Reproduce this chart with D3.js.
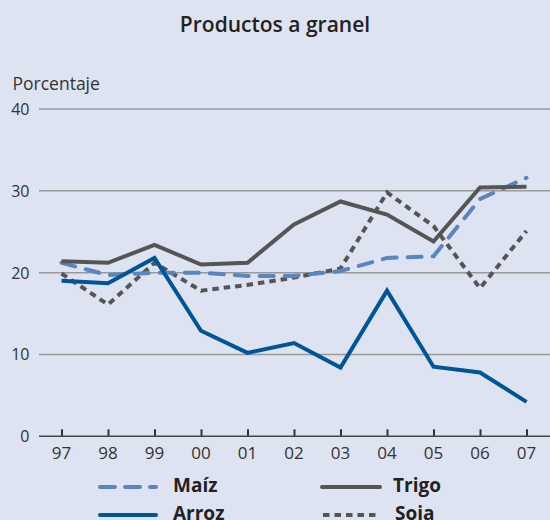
<!DOCTYPE html>
<html>
<head>
<meta charset="utf-8">
<script src="https://cdn.jsdelivr.net/npm/d3@7"></script>
<style>
  body { margin: 0; background: #dee3f1; }
  svg { display: block; font-family: "Open Sans", sans-serif; }
</style>
</head>
<body>
<div id="chart"></div>
<script>
// years shown on the x axis
const years = ["97", "98", "99", "00", "01", "02", "03", "04", "05", "06", "07"];
const yTicks = [0, 10, 20, 30, 40];

// percent values
const maiz = [21.2, 19.7, 20.0, 20.0, 19.6, 19.6, 20.2, 21.8, 22.0, 29.0, 31.6];
const trigo = [21.4, 21.2, 23.4, 21.0, 21.2, 25.9, 28.7, 27.1, 23.8, 30.4, 30.5];
const arroz = [19.0, 18.7, 21.8, 12.9, 10.2, 11.4, 8.4, 17.8, 8.5, 7.8, 4.2];
const soja = [19.9, 16.1, 21.2, 17.8, 18.5, 19.4, 20.5, 29.8, 25.7, 18.1, 25.1];

const series = [
  { name: "Maíz", values: maiz, color: "#5a86bf", dash: "14,11", cap: "round" },
  { name: "Trigo", values: trigo, color: "#555555", dash: null, cap: "butt" },
  { name: "Arroz", values: arroz, color: "#005596", dash: null, cap: "butt" },
  { name: "Soja", values: soja, color: "#555555", dash: "6.5,5", cap: "butt" }
];

const width = 550, height = 520;

const svg = d3.select("#chart")
  .append("svg")
  .attr("width", width)
  .attr("height", height);

const x = d3.scalePoint().domain(years).range([61.5, 526.5]);
const y = d3.scaleLinear().domain([0, 40]).range([436.3, 109]);

svg.append("text")
  .attr("x", 275)
  .attr("y", 32)
  .attr("text-anchor", "middle")
  .attr("font-size", 21)
  .attr("font-weight", 600)
  .attr("fill", "#222")
  .text("Productos a granel");

svg.append("text")
  .attr("x", 12.5)
  .attr("y", 90)
  .attr("font-size", 17.5)
  .attr("fill", "#333")
  .text("Porcentaje");

// gridlines
svg.append("g")
  .selectAll("line")
  .data(yTicks.filter(d => d > 0))
  .join("line")
  .attr("x1", 39)
  .attr("x2", 550)
  .attr("y1", d => y(d))
  .attr("y2", d => y(d))
  .attr("stroke", "#999")
  .attr("stroke-width", 1.5);

svg.append("g")
  .selectAll("text")
  .data(yTicks)
  .join("text")
  .attr("x", 29.5)
  .attr("y", d => y(d) + 6)
  .attr("text-anchor", "end")
  .attr("font-size", 16)
  .attr("fill", "#333")
  .text(d => d);

// x axis
const xAxis = svg.append("g")
  .attr("transform", "translate(0," + y(0) + ")")
  .call(d3.axisTop(x).tickSize(7).tickFormat(""));
xAxis.select(".domain").remove();
xAxis.selectAll(".tick line").attr("stroke", "#333").attr("stroke-width", 2);

svg.append("line")
  .attr("x1", 39)
  .attr("x2", 550)
  .attr("y1", y(0))
  .attr("y2", y(0))
  .attr("stroke", "#444")
  .attr("stroke-width", 1.5);

svg.append("g")
  .selectAll("text")
  .data(years)
  .join("text")
  .attr("x", d => x(d))
  .attr("y", 458.5)
  .attr("text-anchor", "middle")
  .attr("font-size", 17)
  .attr("fill", "#333")
  .text(d => d);

const line = d3.line()
  .x((d, i) => x(years[i]))
  .y(d => y(d));

// draw order: soja, maiz, trigo, arroz on top
["Soja", "Maíz", "Trigo", "Arroz"].forEach(name => {
  const s = series.find(d => d.name === name);
  svg.append("path")
    .attr("d", line(s.values))
    .attr("fill", "none")
    .attr("stroke", s.color)
    .attr("stroke-width", 4)
    .attr("stroke-linejoin", "miter")
    .attr("stroke-linecap", s.cap)
    .attr("stroke-dasharray", s.dash);
});

// legend
const legendPos = [
  { x: 100, x2: 156, y: 487, tx: 173 },
  { x: 322, x2: 380, y: 487, tx: 393 },
  { x: 100, x2: 156, y: 515, tx: 173 },
  { x: 323, x2: 377, y: 515, tx: 395 }
];

const legend = svg.append("g")
  .selectAll("g")
  .data(series)
  .join("g")
  .attr("transform", (d, i) => "translate(0," + legendPos[i].y + ")");

legend.append("line")
  .attr("x1", (d, i) => legendPos[i].x)
  .attr("x2", (d, i) => legendPos[i].x2)
  .attr("stroke", d => d.color)
  .attr("stroke-width", 4)
  .attr("stroke-linecap", d => d.dash ? d.cap : "round")
  .attr("stroke-dasharray", (d, i) => i === 0 ? "15,10" : d.dash);

legend.append("text")
  .attr("x", (d, i) => legendPos[i].tx)
  .attr("y", 5)
  .attr("font-size", 19)
  .attr("font-weight", 700)
  .attr("fill", "#222")
  .text(d => d.name);
</script>
</body>
</html>
